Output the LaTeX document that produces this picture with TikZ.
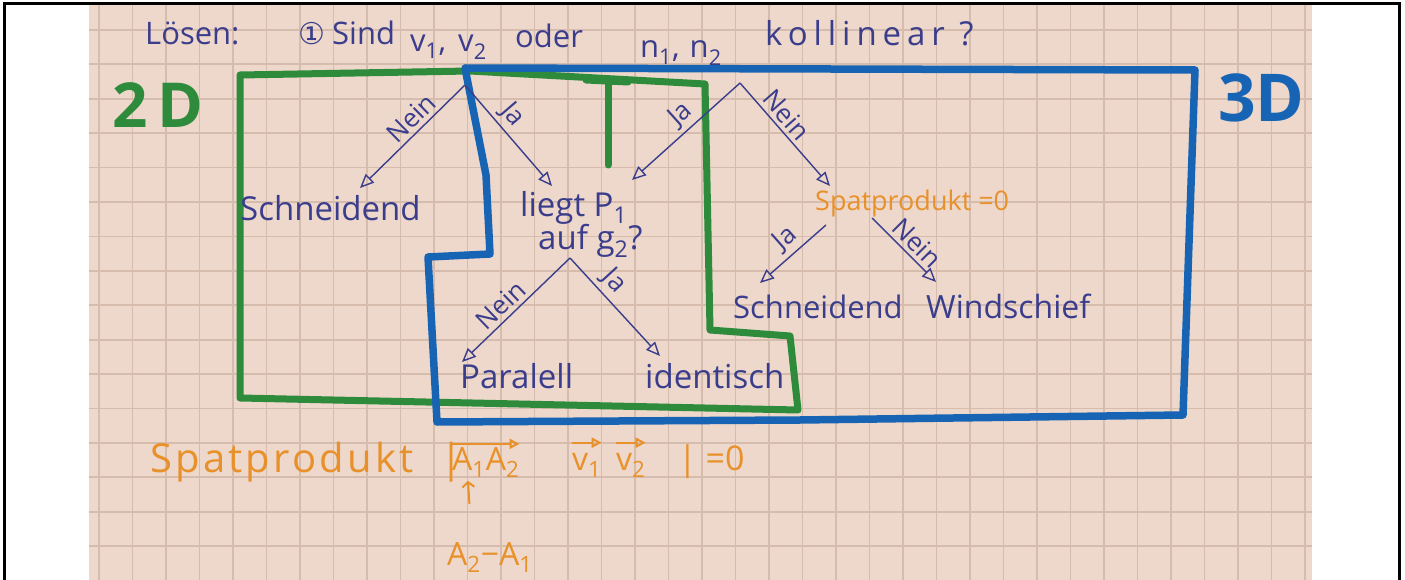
\documentclass[tikz,border=0pt]{standalone}
\usepackage{fontspec}
\setmainfont{Open Sans}
\newfontfamily\symfont{DejaVu Sans}
\usetikzlibrary{arrows.meta}
\definecolor{paper}{HTML}{EDD8CB}
\definecolor{gridc}{HTML}{D6BCAC}
\definecolor{ink}{HTML}{3A3D8C}
\definecolor{mgreen}{HTML}{2E8B3C}
\definecolor{mblue}{HTML}{1864B4}
\definecolor{morange}{HTML}{E8912A}
\begin{document}
\begin{tikzpicture}[x=1pt,y=-1pt,
 inktxt/.style={text=ink, inner sep=0pt, anchor=base west, font=\fontsize{33}{36}\selectfont},
 ttl/.style={text=ink, inner sep=0pt, anchor=base west, font=\fontsize{31}{33}\selectfont},
 otxt/.style={text=morange, inner sep=0pt, anchor=base west, font=\fontsize{34}{38}\selectfont},
 lbl/.style={text=ink, font=\fontsize{26}{28}\selectfont, sloped, above, inner sep=4pt},
 arr/.style={draw=ink, line width=1.4pt, -{Triangle[open,length=14pt,width=12pt,line width=1.4pt]}},
 oarr/.style={draw=morange, line width=2pt, -{Triangle[open,length=10pt,width=10pt,line width=2pt]}},
 gmark/.style={draw=mgreen, line width=7pt, line join=round, line cap=round},
 bmark/.style={draw=mblue, line width=7.5pt, line join=round, line cap=round},
]
\useasboundingbox (0,0) rectangle (1405,580);
% photo of grid paper
\fill[paper] (89,5) rectangle (1312,580);
\foreach \k in {0,...,36} {\draw[gridc, line width=1.8pt] ({99+33.5*\k},5) -- ({99+33.5*\k},580);}
\foreach \k in {0,...,15} {\draw[gridc, line width=1.8pt] (89,{30+34.4*\k}) -- (1312,{30+34.4*\k});}
% black frame
\draw[black, line width=3pt] (4,580) -- (4,4) -- (1399,4) -- (1399,580);

% green 2D region
\draw[gmark] (240,75) -- (470,71) -- (705,84) -- (710,330) -- (790,336) -- (798,410) -- (240,398) -- cycle;
\draw[gmark] (586,80) -- (628,82);
\draw[gmark] (608,80) -- (608,165);
% blue 3D region
\draw[bmark] (465,68) -- (1195,70) -- (1183,415) -- (800,420) -- (437,422) -- (428,257) -- (490,254) -- (486,175) -- cycle;

% labels 2D / 3D
\node[text=mgreen, inner sep=0pt, anchor=base west, font=\fontsize{62}{64}\bfseries] (l2d) at (112,128) {2\,D};
\node[text=mblue, inner sep=0pt, anchor=base west, font=\fontsize{66}{68}\bfseries] (l3d) at (1218,122) {3D};

% title
\node[ttl] (t1) at (145,45) {Lösen:};
\node[ttl, font=\symfont\fontsize{30}{32}\selectfont] (t2) at (298,45) {①};
\node[ttl] (t3) at (332,45) {Sind};
\node[ttl] (t4) at (410,52) {v\textsubscript{1},\hspace{12pt}v\textsubscript{2}};
\node[ttl] (t5) at (515,48) {oder};
\node[ttl] (t6) at (640,58) {n\textsubscript{1},\hspace{10pt}n\textsubscript{2}};
\node[ttl, font=\addfontfeatures{LetterSpace=18}\fontsize{33}{35}\selectfont] (t7) at (765,46) {kollinear ?};

% result / question nodes
\node[inktxt] (s2d) at (240,220) {Schneidend};
\node[inktxt] (q2a) at (520,216) {liegt P\textsubscript{1}};
\node[inktxt] (q2b) at (538,249) {auf g\textsubscript{2}?};
\node[otxt, font=\fontsize{27}{29}\selectfont] (sp3) at (815,211) {Spatprodukt =0};
\node[inktxt, font=\fontsize{31}{34}\selectfont] (s3d) at (733,318) {Schneidend};
\node[inktxt, font=\fontsize{32}{35}\selectfont] (ws) at (926,318) {Windschief};
\node[inktxt] (par) at (460,388) {Paralell};
\node[inktxt] (ide) at (645,388) {identisch};

% coordinates of connector ends
\coordinate (j1) at (465,85);
\coordinate (j2) at (740,83);
\coordinate (j3) at (570,258);
\coordinate (j4) at (826,225);
\coordinate (j5) at (872,218);
\coordinate (e1) at (360,188);
\coordinate (e2) at (552,186);
\coordinate (e3) at (632,180);
\coordinate (e4) at (830,186);
\coordinate (e5) at (462,362);
\coordinate (e6) at (660,356);
\coordinate (e7) at (760,283);
\coordinate (e8) at (936,282);

\draw[arr] (j1) -- node[lbl, pos=0.42] {Nein} (e1);
\draw[arr] (j1) -- node[lbl, pos=0.4] {Ja} (e2);
\draw[arr] (j2) -- node[lbl, pos=0.45] {Ja} (e3);
\draw[arr] (j2) -- node[lbl, pos=0.4] {Nein} (e4);
\draw[arr] (j3) -- node[lbl, pos=0.55] {Nein} (e5);
\draw[arr] (j3) -- node[lbl, pos=0.35] {Ja} (e6);
\draw[arr] (j4) -- node[lbl, pos=0.45] {Ja} (e7);
\draw[arr] (j5) -- node[lbl, pos=0.55] {Nein} (e8);

% bottom formula
\node[otxt, font=\addfontfeatures{LetterSpace=8}\fontsize{40}{42}\selectfont] (sp) at (150,472) {Spatprodukt};
\node[otxt, font=\fontsize{40}{42}\selectfont] (bar1) at (440,472) {|};
\node[otxt, font=\fontsize{32}{34}\selectfont] (a12) at (452,470) {A\textsubscript{1}A\textsubscript{2}};
\node[otxt, font=\fontsize{32}{34}\selectfont] (v1) at (572,470) {v\textsubscript{1}};
\node[otxt, font=\fontsize{32}{34}\selectfont] (v2) at (616,470) {v\textsubscript{2}};
\node[otxt] (eq) at (678,470) {| =0};
\node[otxt, font=\fontsize{32}{34}\selectfont] (diff) at (447,565) {A\textsubscript{2}−A\textsubscript{1}};
\draw[oarr] ([yshift=3pt]a12.north west) -- ([yshift=3pt]a12.north east);
\draw[oarr] ([yshift=10pt]v1.north west) -- ([yshift=10pt]v1.north east);
\draw[oarr] ([yshift=10pt]v2.north west) -- ([yshift=10pt]v2.north east);
\draw[draw=morange, line width=2pt, shorten <=38pt, shorten >=3pt, -{Straight Barb[length=5pt,width=12pt]}] ([xshift=-18pt]diff.north) -- ([xshift=-18pt]a12.south);
\end{tikzpicture}
\end{document}
